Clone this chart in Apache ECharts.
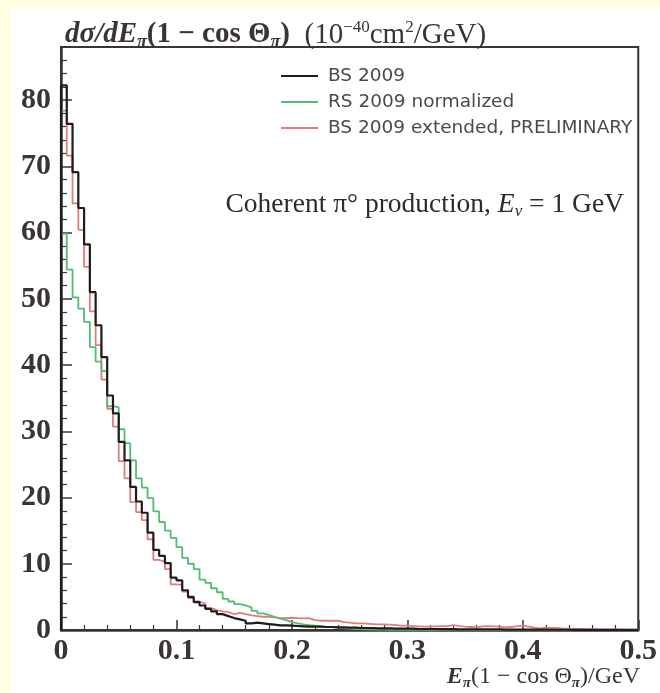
<!DOCTYPE html>
<html>
<head>
<meta charset="utf-8">
<script src="https://cdn.jsdelivr.net/npm/echarts@6/dist/echarts.min.js"></script>
<style>
  html, body { margin: 0; padding: 0; background: #fffee2; width: 660px; height: 693px; overflow: hidden; }
  #c { position: absolute; left: 10px; top: 8px; width: 650px; height: 685px; background: #ffffff; }
</style>
</head>
<body>
<div id="c"></div>
<script>
// Histogram binning (x in GeV)
const binStart = 0;
const binWidth = 0.005;

// Series values per bin (10^-40 cm^2/GeV)
const bs2009 = [
  82.2, 76.4, 69.1, 63.7, 58.2, 51.0, 46.0, 41.2, 35.4, 32.7,
  28.4, 25.6, 21.6, 19.4, 17.7, 14.7, 12.1, 11.2, 10.1, 7.9,
  7.5, 6.0, 5.0, 4.2, 3.7, 3.2, 2.8, 2.4, 2.1, 1.8,
  1.6, 1.4, 1.0, 1.1, 1.0, 0.9, 0.8, 0.7, 0.7, 0.65,
  0.6, 0.55, 0.5, 0.5, 0.5, 0.45, 0.45, 0.4, 0.4, 0.35,
  0.35, 0.3, 0.3, 0.3, 0.25, 0.25, 0.25, 0.2, 0.2, 0.2,
  0.2, 0.15, 0.15, 0.15, 0.15, 0.12, 0.12, 0.12, 0.1, 0.1,
  0.1, 0.1, 0.08, 0.08, 0.08, 0.08, 0.06, 0.06, 0.06, 0.06,
  0.05, 0.05, 0.05, 0.05, 0.04, 0.04, 0.04, 0.04, 0.03, 0.03,
  0.03, 0.03, 0.02, 0.02, 0.02, 0.02, 0.02, 0.01, 0.01, 0.01
];
const rs2009norm = [
  59.8, 54.4, 50.2, 48.5, 46.5, 42.7, 40.5, 39.1, 33.8, 33.6,
  30.3, 28.2, 25.6, 22.9, 21.5, 19.9, 17.9, 16.3, 15.0, 13.9,
  12.5, 10.9, 10.0, 9.2, 7.6, 7.1, 6.3, 5.7, 4.7, 4.3,
  3.9, 3.7, 3.4, 2.9, 2.5, 2.3, 2.0, 1.7, 1.5, 1.2,
  1.0, 0.86, 0.75, 0.65, 0.55, 0.45, 0.42, 0.35, 0.25, 0.2,
  0.15, 0.12, 0.1, 0.08, 0.06, 0.05, 0.04, 0.03, 0.02, 0.02,
  0.01, 0.01, 0.01, 0.01, 0.01, 0.01, 0.01, 0.01, 0.01, 0.01,
  0, 0, 0, 0, 0, 0, 0, 0, 0, 0,
  0, 0, 0, 0, 0, 0, 0, 0, 0, 0,
  0, 0, 0, 0, 0, 0, 0, 0, 0, 0
];
const bs2009ext = [
  78.4, 71.6, 64.4, 60.4, 54.8, 48.1, 43.0, 37.8, 33.4, 30.7,
  25.5, 22.9, 19.3, 17.8, 16.6, 13.7, 10.6, 10.3, 9.2, 6.9,
  6.8, 5.8, 4.8, 4.3, 4.0, 3.3, 3.0, 2.8, 2.7, 2.4,
  2.6, 2.4, 2.2, 2.1, 2.0, 2.0, 1.9, 1.8, 1.8, 1.85,
  1.8, 1.75, 1.8, 1.5, 1.4, 1.4, 1.4, 1.4, 1.2, 1.1,
  1.0, 1.0, 0.95, 0.9, 0.85, 0.85, 0.8, 0.75, 0.65, 0.65,
  0.6, 0.55, 0.5, 0.5, 0.55, 0.6, 0.6, 0.75, 0.6, 0.5,
  0.45, 0.4, 0.55, 0.6, 0.55, 0.5, 0.4, 0.45, 0.6, 0.65,
  0.5, 0.35, 0.25, 0.35, 0.3, 0.3, 0.2, 0.2, 0.15, 0.15,
  0.12, 0.12, 0.1, 0.1, 0.08, 0.08, 0.06, 0.06, 0.05, 0.05
];

// Axis ticks
const xTicks = [0, 0.1, 0.2, 0.3, 0.4, 0.5];
const yTicks = [0, 10, 20, 30, 40, 50, 60, 70, 80];
const seriesNames = ['BS 2009', 'RS 2009 normalized', 'BS 2009 extended, PRELIMINARY'];

function stepPoints(vals) {
  const pts = [[binStart, 0]];
  for (let i = 0; i < vals.length; i++) {
    const lo = binStart + i * binWidth, hi = binStart + (i + 1) * binWidth;
    pts.push([lo, vals[i]]);
    pts.push([hi, vals[i]]);
  }
  return pts;
}

const axisColor = '#3a3434';
const labelFont = { fontFamily: 'Liberation Serif', fontWeight: 'bold', fontSize: 30, color: '#3a3434' };

const chart = echarts.init(document.getElementById('c'), null, { renderer: 'canvas' });
chart.setOption({
  backgroundColor: '#ffffff',
  animation: false,
  grid: { left: 51, top: 39, right: 20, bottom: 63, show: true, borderColor: axisColor, borderWidth: 2, backgroundColor: 'transparent' },
  legend: {
    orient: 'vertical', left: 266, top: 53,
    icon: 'rect', itemWidth: 37, itemHeight: 2, itemGap: 6,
    data: seriesNames,
    textStyle: { fontFamily: 'DejaVu Sans', fontSize: 18.5, color: '#4a4a4a', lineHeight: 20, padding: [0, 0, 0, 5] }
  },
  xAxis: {
    type: 'value', min: xTicks[0], max: xTicks[xTicks.length - 1], interval: 0.1,
    axisLine: { show: true, lineStyle: { color: axisColor, width: 2.5 } },
    axisTick: { show: true, inside: true, length: 10, lineStyle: { color: axisColor, width: 1.5 } },
    minorTick: { show: true, splitNumber: 5, length: 5, lineStyle: { color: axisColor, width: 1.2 } },
    splitLine: { show: false },
    axisLabel: Object.assign({ margin: 6, formatter: v => (xTicks.some(t => Math.abs(t - v) < 1e-9) ? String(+v.toFixed(1)) : '') }, labelFont)
  },
  yAxis: {
    type: 'value', min: 0, max: 88, interval: 10,
    axisLine: { show: true, lineStyle: { color: axisColor, width: 2.5 } },
    axisTick: { show: true, inside: true, length: 11, lineStyle: { color: axisColor, width: 1.5 } },
    minorTick: { show: true, splitNumber: 5, length: 6, lineStyle: { color: axisColor, width: 1.2 } },
    splitLine: { show: false },
    axisLabel: Object.assign({ margin: 10, formatter: v => (yTicks.indexOf(v) >= 0 ? String(v) : '') }, labelFont)
  },
  series: [
    { name: seriesNames[2], type: 'line', data: stepPoints(bs2009ext), symbol: 'none', z: 3,
      lineStyle: { color: '#e47b7b', width: 1.8 }, itemStyle: { color: '#e47b7b' } },
    { name: seriesNames[1], type: 'line', data: stepPoints(rs2009norm), symbol: 'none', z: 4,
      lineStyle: { color: '#52bd72', width: 1.8 }, itemStyle: { color: '#52bd72' } },
    { name: seriesNames[0], type: 'line', data: stepPoints(bs2009), symbol: 'none', z: 5,
      lineStyle: { color: '#1e1c1c', width: 2.2 }, itemStyle: { color: '#1e1c1c' } }
  ],
  graphic: [
    {
      type: 'text', left: 55, top: 11,
      style: {
        text: '{bi|dσ/dE}{bs|π}{b|(1 − cos Θ}{bs|π}{b|)}{r|  (10}{sup|−40}{r|cm}{sup|2}{r|/GeV)}',
        fill: '#3a3434',
        rich: {
          bi: { fontFamily: 'Liberation Serif', fontWeight: 'bold', fontStyle: 'italic', fontSize: 29, lineHeight: 32, verticalAlign: 'middle' },
          b: { fontFamily: 'Liberation Serif', fontWeight: 'bold', fontSize: 29, lineHeight: 32, verticalAlign: 'middle' },
          bs: { fontFamily: 'Liberation Serif', fontWeight: 'bold', fontStyle: 'italic', fontSize: 18, lineHeight: 18, verticalAlign: 'bottom' },
          r: { fontFamily: 'Liberation Serif', fontSize: 29, lineHeight: 32, verticalAlign: 'middle' },
          sup: { fontFamily: 'Liberation Serif', fontSize: 17, lineHeight: 18, verticalAlign: 'top' }
        }
      }
    },
    {
      type: 'text', right: 36, top: 183,
      style: {
        text: '{r|Coherent π° production, }{i|E}{s|ν}{r| = 1 GeV}',
        fill: '#2e2a2a',
        rich: {
          r: { fontFamily: 'Liberation Serif', fontSize: 27.5, lineHeight: 30, verticalAlign: 'middle' },
          i: { fontFamily: 'Liberation Serif', fontStyle: 'italic', fontSize: 27.5, lineHeight: 30, verticalAlign: 'middle' },
          s: { fontFamily: 'Liberation Serif', fontStyle: 'italic', fontSize: 17, lineHeight: 16, verticalAlign: 'bottom' }
        }
      }
    },
    {
      type: 'text', right: 20, top: 657,
      style: {
        text: '{i|E}{s|π}{r|(1 − cos Θ}{s|π}{r|)/GeV}',
        fill: '#3a3434',
        rich: {
          i: { fontFamily: 'Liberation Serif', fontStyle: 'italic', fontWeight: 'bold', fontSize: 24, lineHeight: 28, verticalAlign: 'middle' },
          r: { fontFamily: 'Liberation Serif', fontSize: 24, lineHeight: 28, verticalAlign: 'middle' },
          s: { fontFamily: 'Liberation Serif', fontStyle: 'italic', fontWeight: 'bold', fontSize: 15, lineHeight: 15, verticalAlign: 'bottom' }
        }
      }
    }
  ]
});
</script>
</body>
</html>
